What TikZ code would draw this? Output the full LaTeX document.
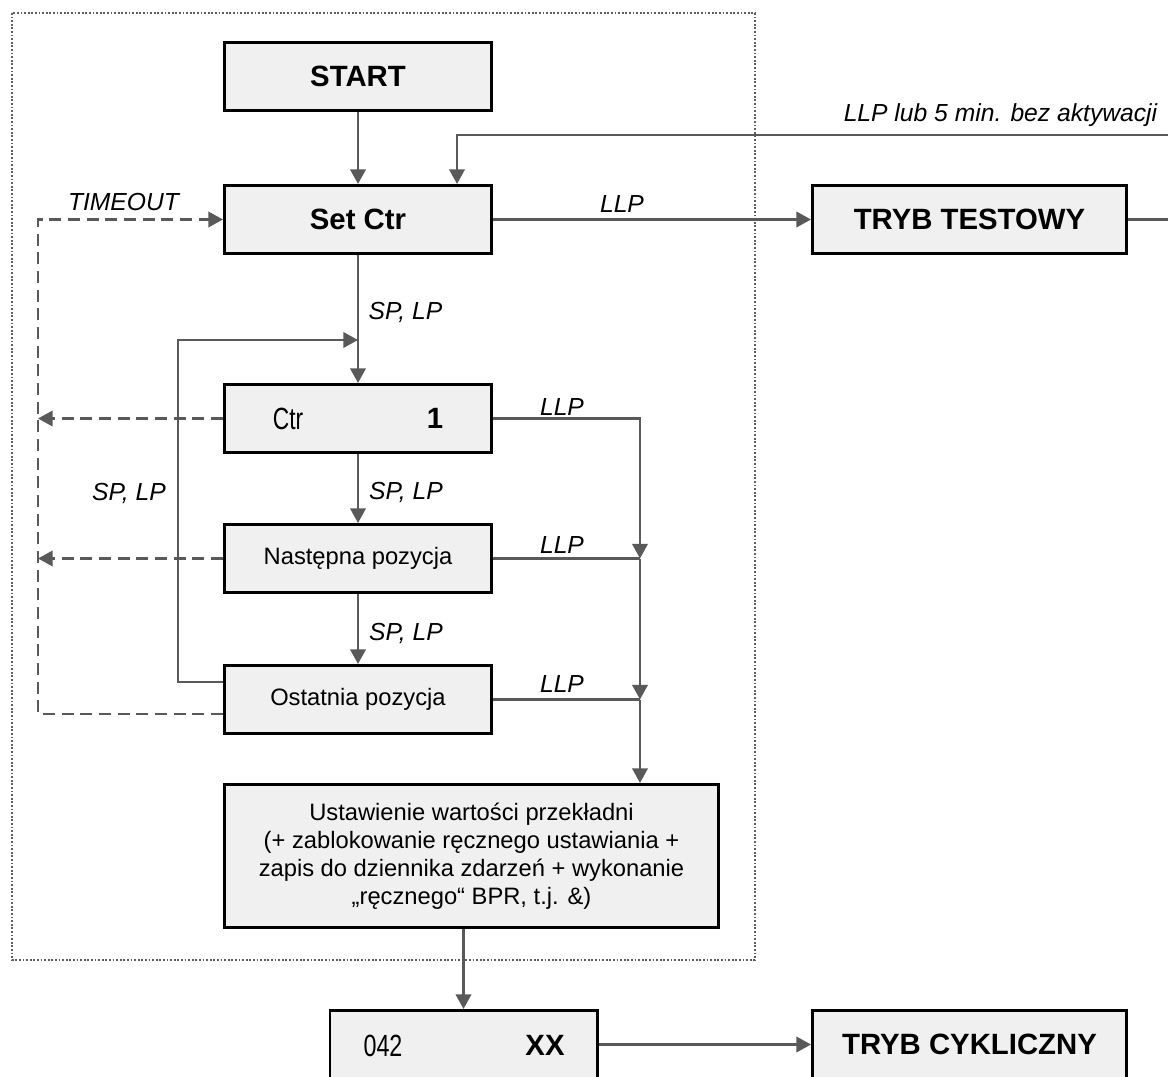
\documentclass[tikz,border=0pt]{standalone}
\usepackage{fontspec}
\setmainfont{Liberation Sans}
\usepackage{graphicx}
\usetikzlibrary{arrows.meta}
\definecolor{boxfill}{HTML}{F0F0F0}
\definecolor{wire}{HTML}{595959}
\definecolor{framecol}{HTML}{5E5E5E}
\tikzset{
  box/.style={draw=black, line width=2.2pt, fill=boxfill, minimum width=200.3pt,
    minimum height=51pt, inner sep=0pt, align=center,
    font=\fontsize{17.8}{21}\selectfont},
  bigbox/.style={box, font=\fontsize{22}{26}\selectfont\bfseries},
  modebox/.style={bigbox, minimum width=235.5pt},
  conn/.style={draw=wire, line width=2pt, -{Triangle[length=11pt,width=11.5pt]}},
  plain/.style={draw=wire, line width=2pt},
  dashconn/.style={conn, dash pattern=on 9pt off 5pt},
  lbl/.style={font=\fontsize{18.5}{21}\selectfont\itshape, inner sep=0pt},
  narrowtxt/.style={font=\fontsize{23}{26}\selectfont, inner sep=0pt},
  boldtxt/.style={font=\fontsize{22}{26}\selectfont\bfseries, inner sep=0pt},
}
\begin{document}
\begin{tikzpicture}[x=0.75pt,y=-0.75pt]
\useasboundingbox (0,0) rectangle (1168,1077);
\clip (0,0) rectangle (1168,1077);

% dotted frame around the setting procedure
\draw[framecol, line width=1.5pt, dash pattern=on 1.4pt off 1.3pt] (12,13) rectangle (755,960);

% boxes
\node[bigbox] (start) at (358,76.5) {START};
\node[bigbox] (setctr) at (358,219.5) {Set Ctr};
\node[modebox] (test) at (969.5,219.5) {TRYB TESTOWY};
\node[box] (ctr1) at (358,418.5) {};
\node[narrowtxt] (ctrname) at (288,418.5) {\scalebox{0.74}[1]{Ctr}};
\node[boldtxt] (ctrval) at (435,418.5) {1};
\node[box] (next) at (358,558.5) {Następna pozycja};
\node[box] (last) at (358,699.5) {Ostatnia pozycja};
\node[box, minimum width=370.5pt, minimum height=107.3pt] (apply) at (471.5,856)
  {Ustawienie wartości przekładni\\
   (+ zablokowanie ręcznego ustawiania +\\
   zapis do dziennika zdarzeń + wykonanie\\
   „ręcznego“ BPR, t.j. \&)};
\node[box] (disp) at (463.5,1044.5) {};
\node[narrowtxt] (dispcode) at (383,1046) {\scalebox{0.76}[1]{042}};
\node[boldtxt] (dispval) at (545,1045) {XX};
\node[modebox] (cyc) at (969.5,1044.5) {TRYB CYKLICZNY};

% helper points
\coordinate (retin) at (1168,135);
\coordinate (retcorner) at (457,135);
\coordinate (testout) at (1168,219.5);
\coordinate (toutTop) at (38,219.5);
\coordinate (toutBot) at (38,714);
\coordinate (loopBot) at (178,682);
\coordinate (loopTop) at (178,340);
\coordinate (bus) at (640,418.5);

% main flow
\draw[conn] (start) -- (setctr);
\draw[conn] (retin) -- (retcorner) -- (retcorner |- setctr.north);
\draw[conn] (setctr) -- (test);
\draw[plain] (test.east) -- (testout);
\draw[conn] (setctr) -- (ctr1);
\draw[conn] (ctr1) -- (next);
\draw[conn] (next) -- (last);

% return loop from last position
\draw[conn] (last.west |- loopBot) -- (loopBot) -- (loopTop) -- (loopTop -| ctr1.north);

% timeouts
\draw[dashconn] (ctr1.west) -- (ctr1.west -| toutTop);
\draw[dashconn] (next.west) -- (next.west -| toutTop);
\draw[dashconn] (last.west |- toutBot) -- (toutBot) -- (toutTop) -- (setctr.west);

% LLP bus on the right
\draw[conn] (ctr1.east) -- (bus) -- (bus |- next.east);
\draw[plain] (next.east) -- (bus |- next.east);
\draw[conn] (bus |- next.east) -- (bus |- last.east);
\draw[plain] (last.east) -- (bus |- last.east);
\draw[conn] (bus |- last.east) -- (bus |- apply.north);

% to the display and cyclic mode
\draw[conn] (apply.south -| disp.north) -- (disp.north);
\draw[conn] (disp) -- (cyc);

% labels
\node[lbl] (lretin) at (1000.5,115) {LLP lub 5 min. bez aktywacji};
\node[lbl] (ltest) at (622,204) {LLP};
\node[lbl] (ltout) at (123.5,202) {TIMEOUT};
\node[lbl] (lsp1) at (405.5,312) {SP, LP};
\node[lbl] (lsp2) at (406,492) {SP, LP};
\node[lbl] (lsp3) at (406,633) {SP, LP};
\node[lbl] (lsploop) at (129,493) {SP, LP};
\node[lbl] (lllp1) at (562,407) {LLP};
\node[lbl] (lllp2) at (562,545) {LLP};
\node[lbl] (lllp3) at (562,684) {LLP};
\end{tikzpicture}
\end{document}
